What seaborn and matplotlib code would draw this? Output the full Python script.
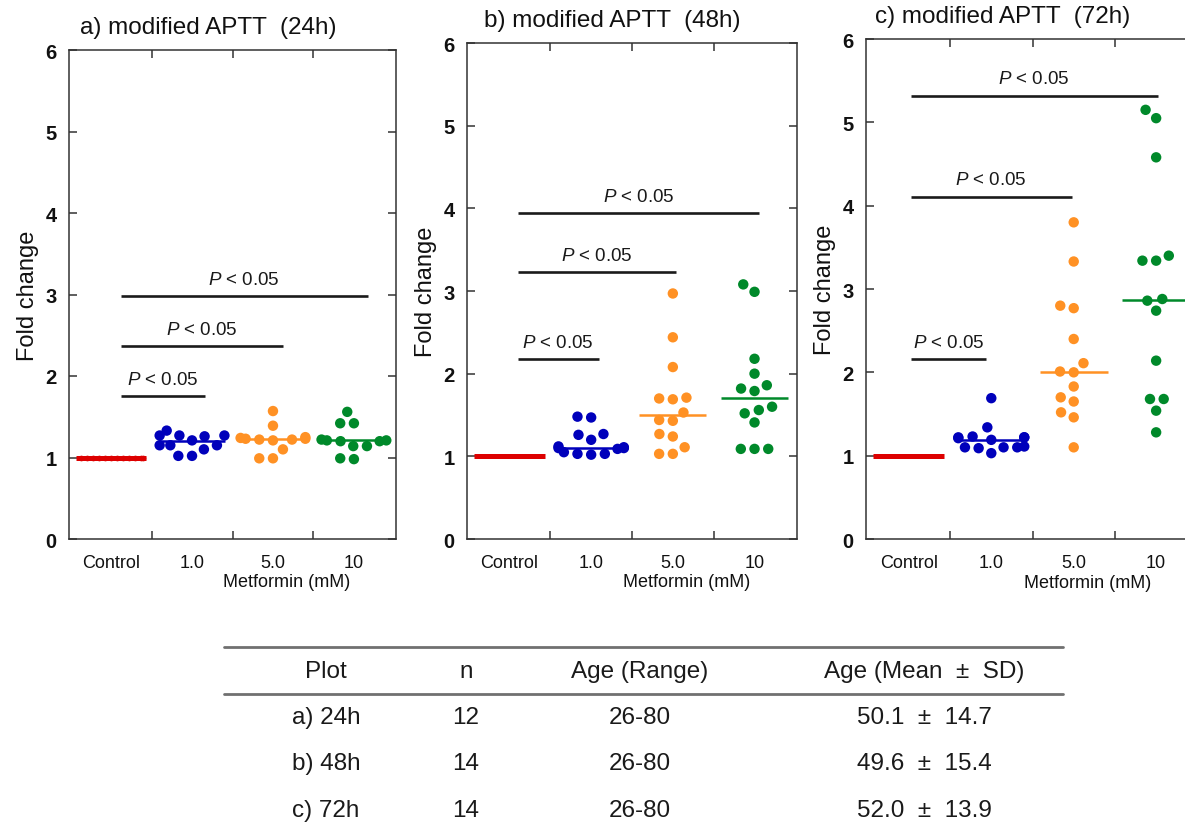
import numpy as np
import pandas as pd
import matplotlib
matplotlib.use("Agg")
import matplotlib.pyplot as plt
import seaborn as sns
from matplotlib.lines import Line2D

# ---------------- data ----------------
categories = ["Control", "1.0", "5.0", "10"]
colors = ["#dd0000", "#0000bb", "#ff9124", "#00892a"]

# panel a (24h), n = 12
ctrl_a = [1.00, 1.00, 1.00, 1.00, 1.00, 1.00, 1.00, 1.00, 1.00, 1.00, 1.00, 1.00]
blue_a = [1.33, 1.27, 1.27, 1.27, 1.26, 1.21, 1.15, 1.15, 1.15, 1.10, 1.02, 1.02]
orange_a = [1.57, 1.39, 1.25, 1.24, 1.23, 1.23, 1.22, 1.22, 1.21, 1.10, 0.99, 0.99]
green_a = [1.56, 1.42, 1.42, 1.22, 1.21, 1.21, 1.20, 1.20, 1.14, 1.14, 0.99, 0.98]
center_a = [1.00, 1.20, 1.23, 1.21]

# panel b (48h), n = 14
ctrl_b = [1.00, 1.00, 1.00, 1.00, 1.00, 1.00, 1.00, 1.00, 1.00, 1.00, 1.00, 1.00, 1.00, 1.00]
blue_b = [1.48, 1.47, 1.27, 1.26, 1.20, 1.12, 1.11, 1.10, 1.10, 1.09, 1.05, 1.03, 1.03, 1.02]
orange_b = [2.97, 2.44, 2.08, 1.71, 1.70, 1.69, 1.53, 1.44, 1.43, 1.27, 1.24, 1.11, 1.03, 1.03]
green_b = [3.08, 2.99, 2.18, 2.00, 1.86, 1.82, 1.79, 1.60, 1.56, 1.52, 1.41, 1.09, 1.09, 1.09]
center_b = [1.00, 1.10, 1.50, 1.71]

# panel c (72h), n = 14
ctrl_c = [1.00, 1.00, 1.00, 1.00, 1.00, 1.00, 1.00, 1.00, 1.00, 1.00, 1.00, 1.00, 1.00, 1.00]
blue_c = [1.69, 1.34, 1.23, 1.22, 1.22, 1.22, 1.21, 1.19, 1.11, 1.10, 1.10, 1.10, 1.09, 1.03]
orange_c = [3.80, 3.33, 2.80, 2.77, 2.40, 2.11, 2.01, 2.00, 1.83, 1.70, 1.65, 1.52, 1.46, 1.10]
green_c = [5.15, 5.05, 4.58, 3.40, 3.34, 3.34, 2.88, 2.86, 2.74, 2.14, 1.68, 1.68, 1.54, 1.28]
center_c = [1.00, 1.19, 2.01, 2.87]

# significance bars: bar heights (fold change) for Control vs 1.0 / 5.0 / 10
sig_a = [1.75, 2.37, 2.98]
sig_b = [2.18, 3.23, 3.94]
sig_c = [2.16, 4.11, 5.32]
sig_label = "$P$ < 0.05"

titles = ["a) modified APTT  (24h)", "b) modified APTT  (48h)", "c) modified APTT  (72h)"]

# table
table_header = ["Plot", "n", "Age (Range)", "Age (Mean  \u00b1  SD)"]
table_rows = [
    ["a) 24h", "12", "26-80", "50.1  \u00b1  14.7"],
    ["b) 48h", "14", "26-80", "49.6  \u00b1  15.4"],
    ["c) 72h", "14", "26-80", "52.0  \u00b1  13.9"],
]

# ---------------- style ----------------
sns.set_theme(style="white")
plt.rcParams["font.family"] = ["Liberation Sans", "DejaVu Sans"]
plt.rcParams["mathtext.fontset"] = "custom"
plt.rcParams["mathtext.it"] = "Liberation Sans:italic"
plt.rcParams["mathtext.rm"] = "Liberation Sans"

W, H = 1185, 828
fig = plt.figure(figsize=(W / 100, H / 100), dpi=100)
fig.patch.set_facecolor("white")

def fx(px):
    return px / W

def fy(py):
    return 1 - py / H

panels = [
    dict(rect=[fx(69), fy(540), fx(327), 489 / H], data=[ctrl_a, blue_a, orange_a, green_a],
         center=center_a, sig=sig_a, sig_x=(0.12, [1.16, 2.12, 3.17]), title_x=0.034,
         ylab_x=-0.093, ctrl_size=4.1),
    dict(rect=[fx(467), fy(540), fx(330), 496 / H], data=[ctrl_b, blue_b, orange_b, green_b],
         center=center_b, sig=sig_b, sig_x=(0.10, [1.09, 2.04, 3.06]), title_x=0.05,
         ylab_x=-0.091, ctrl_size=3.6),
    dict(rect=[fx(866), fy(540), fx(333), 500 / H], data=[ctrl_c, blue_c, orange_c, green_c],
         center=center_c, sig=sig_c, sig_x=(0.02, [0.94, 1.98, 3.02]), title_x=0.027,
         ylab_x=-0.09, ctrl_size=3.6),
]

palette = dict(zip(categories, colors))
spine_color = "#333333"

for k, p in enumerate(panels):
    ax = fig.add_axes(p["rect"])
    rows = []
    for cat, vals in zip(categories, p["data"]):
        for v in vals:
            rows.append((cat, v))
    df = pd.DataFrame(rows, columns=["dose", "value"])

    treated = df[df["dose"] != "Control"]
    control = df[df["dose"] == "Control"]

    sns.swarmplot(data=treated, x="dose", y="value", hue="dose", order=categories,
                  hue_order=categories, palette=palette, size=7.5, linewidth=1.9,
                  edgecolor="none", legend=False, ax=ax, zorder=3)
    sns.swarmplot(data=control, x="dose", y="value", order=categories, color=colors[0],
                  size=p["ctrl_size"], linewidth=0, ax=ax, zorder=3)

    # centre lines
    for i, c in enumerate(p["center"]):
        lw = 3.6 if i == 0 else 1.8
        half = 0.43 if i == 0 else 0.41
        ax.plot([i - half, i + half], [c, c], color=colors[i], lw=lw, zorder=4 if i else 2,
                solid_capstyle="butt")

    # significance bars
    x0, ends = p["sig_x"]
    for h, x1 in zip(p["sig"], ends):
        ax.plot([x0, x1], [h, h], color="#1a1a1a", lw=1.9, solid_capstyle="butt", zorder=2)
        ax.text((x0 + x1) / 2, h + 0.1, sig_label, ha="center", va="bottom",
                fontsize=13.5, color="#1a1a1a")

    ax.set_xlim(-0.52, 3.52)
    ax.set_ylim(0, 6)

    # ticks
    ax.set_xticks(range(len(categories)))
    ax.set_xticklabels(categories)
    ax.set_xticks([0.5, 1.5, 2.5], minor=True)
    ax.tick_params(axis="x", which="major", length=0, pad=11, labelsize=13, labelcolor="#111111")
    ax.tick_params(axis="x", which="minor", direction="in", length=6, width=1.1,
                   color=spine_color, top=True, bottom=True)
    ax.set_yticks(range(0, 7))
    ax.tick_params(axis="y", which="major", direction="in", length=6, width=1.1,
                   color=spine_color, left=True, right=True, pad=9, labelsize=14.5,
                   labelcolor="#111111")
    for lab in ax.get_yticklabels():
        lab.set_fontweight("bold")

    ax.set_xlabel("")
    ax.set_ylabel("Fold change", fontsize=17, color="#111111")
    ax.yaxis.set_label_coords(p["ylab_x"], 0.5)

    for s in ax.spines.values():
        s.set_visible(True)
        s.set_color(spine_color)
        s.set_linewidth(1.1)

    ax.text(0.665, -0.086, "Metformin (mM)", transform=ax.transAxes, ha="center",
            va="center", fontsize=13, color="#111111")
    ax.annotate(titles[k], xy=(p["title_x"], 1.0), xycoords="axes fraction",
                xytext=(0, 16.5), textcoords="offset points", ha="left", va="center",
                fontsize=17.5, color="#111111")

# ---------------- table ----------------
col_x = [326, 466, 640, 924]
line_color = "#707070"
for ypx in (648, 695):
    fig.add_artist(Line2D([fx(224), fx(1063)], [fy(ypx), fy(ypx)], transform=fig.transFigure,
                          color=line_color, lw=2.0))
for cx, txt in zip(col_x, table_header):
    fig.text(fx(cx), fy(672), txt, ha="center", va="center", fontsize=17.5, color="#1a1a1a")
for r, row in enumerate(table_rows):
    ypx = 718 + r * 46.5
    for cx, txt in zip(col_x, row):
        fig.text(fx(cx), fy(ypx), txt, ha="center", va="center", fontsize=17.5, color="#1a1a1a")

fig.savefig("out.png", dpi=100)
